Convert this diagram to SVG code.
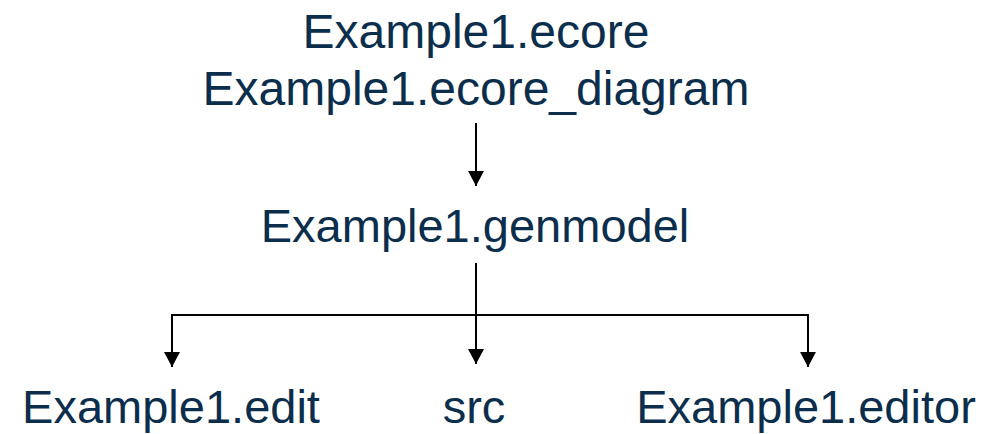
<svg xmlns="http://www.w3.org/2000/svg" width="996" height="434" viewBox="0 0 996 434">
  <style>
    .label { font-family: "Liberation Sans", Arial, sans-serif; font-size: 47px; fill: #0B2E4C; text-anchor: middle; }
    .big { font-size: 48px; }
    .wire { fill: none; stroke: #000000; stroke-width: 2; }
  </style>
  <defs>
    <marker id="arrow" markerUnits="userSpaceOnUse" markerWidth="17" markerHeight="17" refX="15" refY="8" orient="auto">
      <path d="M0,0 L15,8 L0,16 Z" fill="#000000"/>
    </marker>
  </defs>
  <rect width="996" height="434" fill="#FFFFFF"/>

  <g id="connectors">
    <path class="wire" d="M476,123 L476,186" marker-end="url(#arrow)"/>
    <path class="wire" d="M476,263 L476,364" marker-end="url(#arrow)"/>
    <path class="wire" d="M172,315 L808,315"/>
    <path class="wire" d="M172,314 L172,367" marker-end="url(#arrow)"/>
    <path class="wire" d="M808,314 L808,367" marker-end="url(#arrow)"/>
  </g>

  <g id="ecore">
    <text class="label big" x="476" y="48">Example1.ecore</text>
    <text class="label big" x="476" y="105">Example1.ecore_diagram</text>
  </g>
  <g id="genmodel">
    <text class="label" x="475" y="242">Example1.genmodel</text>
  </g>
  <g id="edit">
    <text class="label" x="171" y="423">Example1.edit</text>
  </g>
  <g id="src">
    <text class="label" x="474" y="423">src</text>
  </g>
  <g id="editor">
    <text class="label" x="806" y="423">Example1.editor</text>
  </g>
</svg>
